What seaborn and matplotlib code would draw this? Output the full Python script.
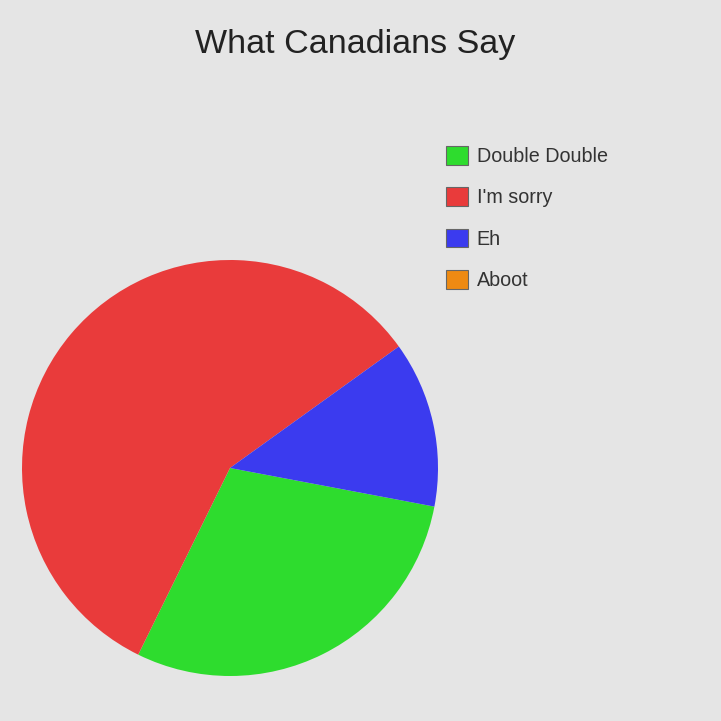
import matplotlib as mpl
import matplotlib.pyplot as plt
import seaborn as sns
from matplotlib.patches import Patch

# DATA
labels = ["Double Double", "I'm sorry", "Eh", "Aboot"]
shares = [29.3, 57.8, 12.9, 0.0]
colors = ["#2edc2e", "#e93b3b", "#3b3bef", "#ee8a12"]
title = "What Canadians Say"

bg = "#e5e5e5"
sns.set_style("white", {"axes.facecolor": bg, "figure.facecolor": bg})
mpl.rcParams['font.family'] = ['Liberation Sans', 'DejaVu Sans']

fig = plt.figure(figsize=(7.21, 7.21), dpi=100)
fig.patch.set_facecolor(bg)

# pie centred at (230, 468) px, radius 208 px
ax = fig.add_axes([22 / 721, (721 - 468 - 208) / 721, 416 / 721, 416 / 721])
ax.set_facecolor(bg)
ax.pie(shares, colors=colors, startangle=-10.7, counterclock=False,
       radius=1, wedgeprops=dict(linewidth=0))
ax.set_xlim(-1, 1)
ax.set_ylim(-1, 1)
ax.set_aspect("equal")
ax.axis("off")

fig.text(355 / 721, 1 - 45 / 721, title, ha="center", va="center",
         fontsize=24.5, color="#222222")

handles = [Patch(facecolor=c, edgecolor="#666666", linewidth=0.8) for c in colors]
fig.legend(handles, labels, loc="upper left", bbox_to_anchor=(446 / 721, 1 - 146 / 721),
           frameon=False, fontsize=14.2, handlelength=1.1, handleheight=1.1,
           handletextpad=0.45, labelspacing=1.07, borderpad=0, borderaxespad=0,
           labelcolor="#333333")

plt.savefig("out.png", dpi=100, facecolor=bg)
plt.close()
